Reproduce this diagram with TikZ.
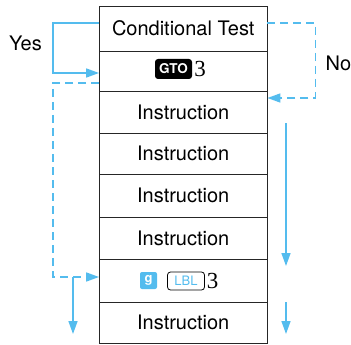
\documentclass[tikz,border=0pt]{standalone}
\usepackage{fontspec}
\setmainfont{TeX Gyre Heros}
\newfontfamily\numfont{Liberation Serif}
\usetikzlibrary{arrows.meta,calc}
\definecolor{flowblue}{RGB}{84,188,238}
\begin{document}
\begin{tikzpicture}[x=1pt,y=-1pt,
  rowbox/.style={draw=black!85, line width=0.8pt, minimum width=167.5pt, inner sep=0pt, font=\fontsize{20}{24}\selectfont},
  flow/.style={draw=flowblue, line width=1.6pt, -{Triangle[length=13pt,width=9pt,fill=flowblue]}},
  flowdash/.style={flow, dash pattern=on 8pt off 5pt},
  lbl/.style={font=\fontsize{20}{24}\selectfont, inner sep=0pt},
  gtokey/.style={fill=black, text=white, rounded corners=3pt, font=\bfseries\fontsize{13.5}{15}\selectfont, minimum width=37pt, minimum height=20pt, inner sep=0pt},
  gkey/.style={fill=flowblue, text=white, rounded corners=2pt, font=\bfseries\fontsize{13}{14}\selectfont, minimum width=17pt, minimum height=17pt, inner sep=0pt},
  lblkey/.style={draw=black, line width=0.8pt, text=flowblue, rounded corners=3pt, font=\fontsize{13}{14}\selectfont, minimum width=37pt, minimum height=18pt, inner sep=0pt},
  digit/.style={font=\numfont\fontsize{23}{24}\selectfont, inner sep=0pt}
]
\useasboundingbox (0,0) rectangle (351,345);
% rows
\node[rowbox, minimum height=45pt] (r1) at (183.25,28.5) {Conditional Test};
\node[rowbox, minimum height=40pt] (r2) at (183.25,71) {};
\node[rowbox, minimum height=42pt] (r3) at (183.25,112) {Instruction};
\node[rowbox, minimum height=41pt] (r4) at (183.25,153.5) {Instruction};
\node[rowbox, minimum height=43pt] (r5) at (183.25,195.5) {Instruction};
\node[rowbox, minimum height=42pt] (r6) at (183.25,238) {Instruction};
\node[rowbox, minimum height=43pt] (r7) at (183.25,280.5) {};
\node[rowbox, minimum height=41pt] (r8) at (183.25,322.5) {Instruction};
% keys
\node[gtokey] (gto) at (173.5,69) {GTO};
\node[digit] (three1) at (200,69) {3};
\node[gkey] (gk) at (148.5,280.5) {g};
\node[lblkey] (lblk) at (186,281) {LBL};
\node[digit] (three2) at (212.5,281) {3};
% labels
\node[lbl] (yes) at (25.5,43) {Yes};
\node[lbl] (no) at (338.5,63) {No};
% connectors
\draw[flow] ([yshift=5.5pt]r1.west) -- ++(-46pt,0) |- ([yshift=-2pt]r2.west);
\draw[flowdash] ([yshift=5.5pt]r1.east) -- ++(48pt,0) |- ([yshift=14pt]r3.east);
\draw[flowdash] ([yshift=-12pt]r2.west) -- ++(-46pt,0) |- ([yshift=3.5pt]r7.west);
\coordinate (dl) at (73,277);
\coordinate (dle) at (73,334);
\draw[flow] (dl) -- (dle);
\coordinate (ra1) at (286,123);
\coordinate (ra1e) at (286,266);
\coordinate (ra2) at (286,302);
\coordinate (ra2e) at (286,334);
\draw[flow] (ra1) -- (ra1e);
\draw[flow] (ra2) -- (ra2e);
\end{tikzpicture}
\end{document}
